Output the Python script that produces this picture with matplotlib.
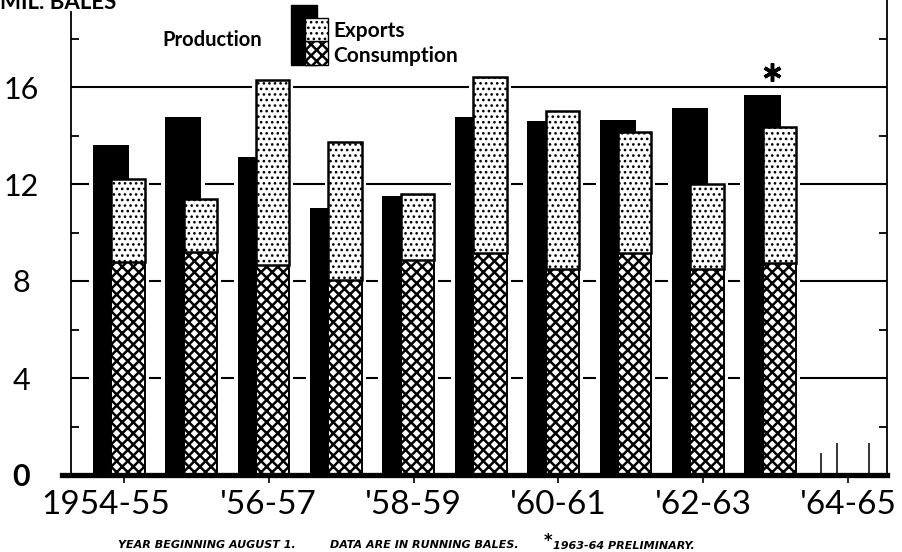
import numpy as np
import matplotlib
matplotlib.use("Agg")
import matplotlib.pyplot as plt
import matplotlib.transforms as mtransforms
from matplotlib.patches import Rectangle

# datos (millones de pacas)
years = [1954, 1955, 1956, 1957, 1958, 1959, 1960, 1961, 1962, 1963]
production = [13.6, 14.75, 13.1, 11.0, 11.5, 14.75, 14.6, 14.65, 15.15, 15.65]
consumption = [8.8, 9.2, 8.65, 8.05, 8.85, 9.15, 8.5, 9.15, 8.5, 8.75]
exports = [3.4, 2.2, 7.65, 5.7, 2.75, 7.25, 6.5, 5.0, 3.5, 5.6]
tick_labels = ["1954-55", "'56-57", "'58-59", "'60-61", "'62-63", "'64-65"]
y_labels = ["0", "4", "8", "12", "16"]
# trazos sueltos del original en '64-65
stub_x = [9.63, 9.85, 10.29]
stub_top = [0.9, 1.3, 1.3]

plt.rcParams['font.family'] = ['Lato', 'DejaVu Sans']
plt.rcParams['hatch.linewidth'] = 1.8


def hatch_lw(patches, lw):
    # grosor de la trama por barra si la version lo permite
    for p in patches:
        if hasattr(p, 'set_hatch_linewidth'):
            p.set_hatch_linewidth(lw)


W, H = 903, 552
fig = plt.figure(figsize=(W / 100, H / 100), dpi=100)
ax = fig.add_axes([71 / W, (H - 475) / H, (887 - 71) / W, 475 / H])
ax.set_xlim(-0.732, 10.54)
ax.set_ylim(0, 475 / 24.25)

x = np.arange(len(years))
prod = np.array(production)
cons = np.array(consumption)
expo = np.array(exports)
tot = cons + expo

# fondo blanco para cortar las lineas de la reticula
ax.bar(x - 0.18, prod + 0.15, width=0.61, color='white', zorder=2)
ax.bar(x + 0.055, tot + 0.15, width=0.57, color='white', zorder=2)
ax.bar(x - 0.18, prod, width=0.50, color='black', zorder=3)
b_cons = ax.bar(x + 0.055, cons, width=0.46, facecolor='white', edgecolor='black',
                hatch='xxx', linewidth=1.4, zorder=4)
b_exp = ax.bar(x + 0.055, expo, bottom=cons, width=0.46, facecolor='white',
               edgecolor='black', hatch='...', linewidth=1.8, zorder=4)
hatch_lw(b_cons, 1.8)
hatch_lw(b_exp, 1.1)

ax.vlines(stub_x, 0, stub_top, color='black', lw=1.1, zorder=3)

# reticula y ejes
ax.set_yticks([0, 4, 8, 12, 16])
ax.set_yticklabels(y_labels, fontsize=22)
ax.set_yticks([2, 6, 10, 14, 18], minor=True)
ax.grid(axis='y', which='major', color='black', lw=1.5)
ax.set_axisbelow(True)
ax.tick_params(axis='y', which='major', length=0, pad=36)
ax.tick_params(axis='y', which='minor', direction='in', length=6, width=1.3,
               left=True, right=True)
for lab in ax.get_yticklabels():
    lab.set_horizontalalignment('center')
ax.get_yticklabels()[0].set_fontweight('bold')

ax.set_xticks(range(0, 11, 2))
ax.set_xticklabels(tick_labels, fontsize=24)
ax.tick_params(axis='x', direction='out', length=6, width=1.2, pad=5)
first = ax.get_xticklabels()[0]
first.set_transform(first.get_transform() +
                    mtransforms.ScaledTranslation(-18 / 100, 0, fig.dpi_scale_trans))

ax.spines['top'].set_visible(False)
ax.spines['bottom'].set_visible(False)
ax.spines['left'].set_bounds(0, 19.1)
ax.spines['left'].set_linewidth(1.3)
ax.spines['right'].set_linewidth(1.3)
ax.axhline(0, xmin=-0.011, xmax=1.0, color='black', lw=3.8, clip_on=False, zorder=5)

# asterisco de 1963-64
ax.plot(8.95, 16.6, marker='o', ms=17, color='white', zorder=2)
ax.plot(8.95, 16.6, marker=(6, 2, 0), ms=13, mew=2.5, color='black', zorder=6)

# leyenda
def px(x0, y0):
    return (x0 / W, 1 - y0 / H)

fig.add_artist(Rectangle(px(291, 65), 26 / W, 60 / H, facecolor='black',
                         edgecolor='black', transform=fig.transFigure))
leg_c = Rectangle(px(305, 65), 23 / W, 24 / H, facecolor='white',
                  edgecolor='black', hatch='xxx', lw=1.0, transform=fig.transFigure)
leg_e = Rectangle(px(305, 41), 23 / W, 23 / H, facecolor='white',
                  edgecolor='black', hatch='...', lw=1.0, transform=fig.transFigure)
hatch_lw([leg_c], 1.8)
hatch_lw([leg_e], 1.1)
fig.add_artist(leg_c)
fig.add_artist(leg_e)
fig.text(162 / W, 1 - 40 / H, 'Production', fontsize=14.5, fontweight='bold',
         va='center', ha='left')
fig.text(333 / W, 1 - 31 / H, 'Exports', fontsize=15, fontweight='bold',
         va='center', ha='left')
fig.text(333 / W, 1 - 56 / H, 'Consumption', fontsize=15, fontweight='bold',
         va='center', ha='left')

fig.text(0, 1 - 9 / H, 'MIL. BALES', fontsize=16, fontweight='bold',
         va='baseline', ha='left')

# notas al pie
foot = dict(fontsize=8, fontweight='bold', style='italic', family='DejaVu Sans',
            va='center', ha='left')
fig.text(118 / W, 1 - 545 / H, 'YEAR BEGINNING AUGUST 1.', **foot)
fig.text(330 / W, 1 - 545 / H, 'DATA ARE IN RUNNING BALES.', **foot)
fig.text(544 / W, 1 - 541 / H, '*', fontsize=12, fontweight='bold',
         family='DejaVu Sans', va='center', ha='left')
fig.text(553 / W, 1 - 546 / H, '1963-64 PRELIMINARY.', **foot)

fig.savefig('out.png', dpi=100)
